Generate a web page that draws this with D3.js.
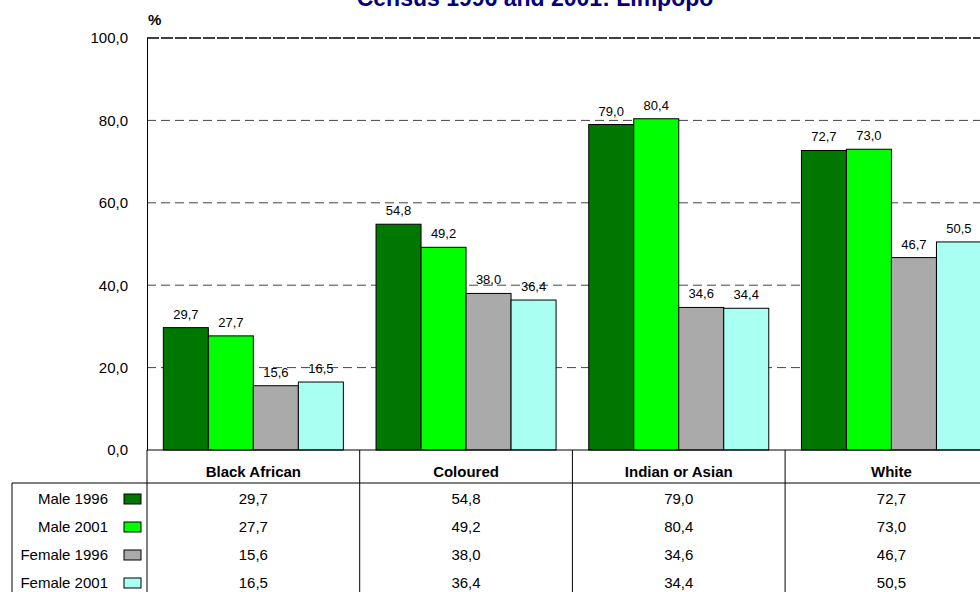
<!DOCTYPE html>
<html>
<head>
<meta charset="utf-8">
<script src="https://cdn.jsdelivr.net/npm/d3@7"></script>
<style>
  body { margin: 0; overflow: hidden; background: #fff; }
  svg { display: block; font-family: "Liberation Sans", Arial, sans-serif; }
</style>
</head>
<body>
<div id="chart"></div>
<script>
// Datos
var categorias = ["Black African", "Coloured", "Indian or Asian", "White"];
var series = ["Male 1996", "Male 2001", "Female 1996", "Female 2001"];
var colores = ["#007800", "#00ff00", "#aaaaaa", "#aafff3"];
var male1996 = [29.7, 54.8, 79.0, 72.7];
var male2001 = [27.7, 49.2, 80.4, 73.0];
var female1996 = [15.6, 38.0, 34.6, 46.7];
var female2001 = [16.5, 36.4, 34.4, 50.5];
var ticksY = [0, 20, 40, 60, 80, 100];
var titulo = "Census 1996 and 2001: Limpopo";

var valores = [male1996, male2001, female1996, female2001];

var svgWidth = 980;
var svgHeight = 592;

// Area del grafico
var x0 = 147, yTop = 38, yBase = 450;
var anchoCategoria = 212.7;

var svg = d3.select("#chart").append("svg")
  .attr("width", svgWidth)
  .attr("height", svgHeight);

var fmt = function(v) { return d3.format(".1f")(v).replace(".", ","); };

var x = d3.scaleBand()
  .domain(categorias)
  .range([x0, x0 + anchoCategoria * categorias.length]);

var xSerie = d3.scaleBand()
  .domain(series)
  .range([0, x.bandwidth()])
  .paddingInner(0)
  .paddingOuter(0.363);

var y = d3.scaleLinear()
  .domain([0, 100])
  .range([yBase, yTop]);

// Titulo (cortado arriba, como en el original)
svg.append("text")
  .attr("x", 535)
  .attr("y", 6)
  .attr("text-anchor", "middle")
  .attr("font-size", 23)
  .attr("font-weight", "bold")
  .attr("fill", "#000080")
  .text(titulo);

// Grilla
svg.append("g").selectAll("line")
  .data(ticksY.filter(function(d){ return d > 0; }))
  .enter().append("line")
  .attr("x1", x0).attr("x2", svgWidth + 20)
  .attr("y1", function(d){ return y(d); })
  .attr("y2", function(d){ return y(d); })
  .attr("stroke", function(d){ return d == 100 ? "#000" : "#444"; })
  .attr("stroke-width", function(d){ return d == 100 ? 1.5 : 1; })
  .attr("stroke-dasharray", function(d){ return d == 100 ? "12,2" : "9,5"; });

// Eje Y
var ejeY = svg.append("g")
  .attr("transform", "translate(" + x0 + ",0)")
  .call(d3.axisLeft(y).tickValues(ticksY).tickFormat(fmt).tickSize(0).tickPadding(19));
ejeY.select(".domain").attr("stroke", "#000");
ejeY.selectAll("text")
  .attr("font-size", 15)
  .attr("font-family", "Liberation Sans, Arial, sans-serif")
  .attr("fill", "#000");

svg.append("text")
  .attr("x", 148).attr("y", 25)
  .attr("font-size", 15).attr("font-weight", "bold")
  .text("%");

// Barras
var grupos = svg.append("g").selectAll("g")
  .data(categorias)
  .enter().append("g")
  .attr("transform", function(d){ return "translate(" + x(d) + ",0)"; });

grupos.selectAll("rect")
  .data(function(d, i){ return series.map(function(s, j){ return { serie: s, valor: valores[j][i], color: colores[j] }; }); })
  .enter().append("rect")
  .attr("x", function(d){ return xSerie(d.serie); })
  .attr("y", function(d){ return y(d.valor); })
  .attr("width", xSerie.bandwidth())
  .attr("height", function(d){ return y(0) - y(d.valor); })
  .attr("fill", function(d){ return d.color; })
  .attr("stroke", "#000")
  .attr("stroke-width", 1);

grupos.selectAll("text.etiqueta")
  .data(function(d, i){ return series.map(function(s, j){ return { serie: s, valor: valores[j][i] }; }); })
  .enter().append("text")
  .attr("class", "etiqueta")
  .attr("x", function(d){ return xSerie(d.serie) + xSerie.bandwidth() / 2; })
  .attr("y", function(d){ return y(d.valor) - 9; })
  .attr("text-anchor", "middle")
  .attr("font-size", 13)
  .text(function(d){ return fmt(d.valor); });

// Eje X (base)
svg.append("line")
  .attr("x1", x0).attr("x2", svgWidth + 20)
  .attr("y1", yBase).attr("y2", yBase)
  .attr("stroke", "#000");

// Tabla de datos
var filaAltura = 28;
var yEncabezado = 483;
var filaY = function(j) { return 499 + j * filaAltura; };

svg.append("line")
  .attr("x1", 12).attr("x2", svgWidth + 20)
  .attr("y1", yEncabezado).attr("y2", yEncabezado)
  .attr("stroke", "#000");
svg.append("line")
  .attr("x1", 12).attr("x2", 12)
  .attr("y1", yEncabezado).attr("y2", svgHeight + 20)
  .attr("stroke", "#000");

svg.append("g").selectAll("line")
  .data(categorias)
  .enter().append("line")
  .attr("x1", function(d){ return x(d); })
  .attr("x2", function(d){ return x(d); })
  .attr("y1", yBase).attr("y2", svgHeight + 20)
  .attr("stroke", "#000");

svg.append("g").selectAll("text")
  .data(categorias)
  .enter().append("text")
  .attr("x", function(d){ return x(d) + x.bandwidth() / 2; })
  .attr("y", 472)
  .attr("dy", "0.35em")
  .attr("text-anchor", "middle")
  .attr("font-size", 15)
  .attr("font-weight", "bold")
  .text(function(d){ return d; });

// Leyenda de la tabla
var leyenda = svg.append("g").selectAll("g")
  .data(series)
  .enter().append("g");

leyenda.append("text")
  .attr("x", 108)
  .attr("y", function(d, j){ return filaY(j); })
  .attr("dy", "0.35em")
  .attr("text-anchor", "end")
  .attr("font-size", 15)
  .text(function(d){ return d; });

leyenda.append("rect")
  .attr("x", 124)
  .attr("y", function(d, j){ return filaY(j) - 5; })
  .attr("width", 17)
  .attr("height", 10)
  .attr("fill", function(d, j){ return colores[j]; })
  .attr("stroke", "#000");

// Valores de la tabla
categorias.forEach(function(c, i) {
  svg.append("g").selectAll("text")
    .data(series)
    .enter().append("text")
    .attr("x", x(c) + x.bandwidth() / 2)
    .attr("y", function(d, j){ return filaY(j); })
    .attr("dy", "0.35em")
    .attr("text-anchor", "middle")
    .attr("font-size", 15)
    .text(function(d, j){ return fmt(valores[j][i]); });
});
</script>
</body>
</html>
